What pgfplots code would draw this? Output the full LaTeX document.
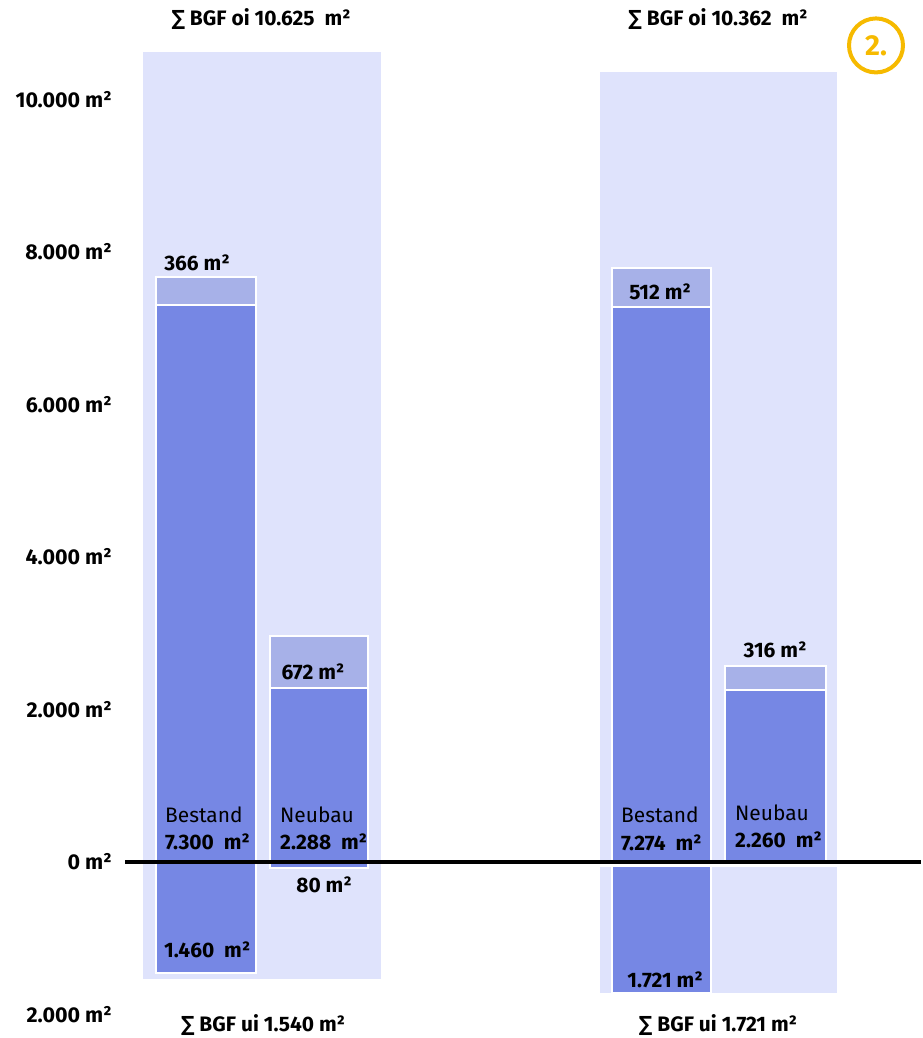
\documentclass[border=0pt]{standalone}
\usepackage{pgfplots}
\pgfplotsset{compat=1.18}
\usepackage{fontspec}
\setmainfont{Fira Sans}
\newfontfamily\symfont{DejaVu Sans Condensed}

\definecolor{bgc}{RGB}{223,227,252}
\definecolor{barc}{RGB}{118,135,228}
\definecolor{capc}{RGB}{167,177,232}
\definecolor{ring}{RGB}{246,186,0}

\newcommand{\sumsign}{{\symfont\bfseries ∑}}

\begin{document}
\begin{tikzpicture}[
  lab/.style={font=\fontsize{21}{24}\selectfont\bfseries, inner sep=0pt},
  reg/.style={font=\fontsize{21}{24}\selectfont, inner sep=0pt},
  bar/.style={draw=white, line width=2bp},
]
\begin{axis}[
  name=ax,
  scale only axis,
  width=923bp, height=1038bp,
  xmin=0, xmax=923,
  ymin=-2308.2, ymax=11305,
  axis line style={draw=none},
  xtick=\empty,
  scaled y ticks=false,
  ytick={-2000,0,2000,4000,6000,8000,10000},
  yticklabels={2.000 m²,0 m²,2.000 m²,4.000 m²,6.000 m²,8.000 m²,10.000 m²},
  major tick length=0pt,
  yticklabel style={anchor=east, xshift=112bp, inner sep=0pt,
    font=\fontsize{21.5}{24}\selectfont\bfseries},
  clip=false,
]
% group backgrounds (sum above / below ground)
\addplot[fill=bgc, draw=none] coordinates {(143,-1540) (381,-1540) (381,10625) (143,10625)} -- cycle;
\addplot[fill=bgc, draw=none] coordinates {(600,-1721) (837,-1721) (837,10362) (600,10362)} -- cycle;

% left group: Bestand
\addplot[fill=barc, bar] coordinates {(156,-1460) (256,-1460) (256,7300) (156,7300)} -- cycle;
\addplot[fill=capc, bar] coordinates {(156,7300) (256,7300) (256,7666) (156,7666)} -- cycle;
% left group: Neubau
\addplot[fill=barc, bar] coordinates {(270,-80) (368,-80) (368,2288) (270,2288)} -- cycle;
\addplot[fill=capc, bar] coordinates {(270,2288) (368,2288) (368,2960) (270,2960)} -- cycle;

% right group: Bestand
\addplot[fill=barc, bar] coordinates {(612,-1721) (711,-1721) (711,7274) (612,7274)} -- cycle;
\addplot[fill=capc, bar] coordinates {(612,7274) (711,7274) (711,7786) (612,7786)} -- cycle;
% right group: Neubau
\addplot[fill=barc, bar] coordinates {(725,0) (826,0) (826,2260) (725,2260)} -- cycle;
\addplot[fill=capc, bar] coordinates {(725,2260) (826,2260) (826,2576) (725,2576)} -- cycle;

% ground line
\addplot[white, line width=3bp] coordinates {(598,-45) (839,-45)};
\addplot[black, line width=3.5bp] coordinates {(125,0) (921,0)};

% sums
\node[lab] at (axis cs:261,11056) {\sumsign\ BGF oi 10.625 \ m²};
\node[lab] at (axis cs:718,11056) {\sumsign\ BGF oi 10.362 \ m²};
\node[lab] at (axis cs:263,-2138) {\sumsign\ BGF ui 1.540 m²};
\node[lab] at (axis cs:718,-2138) {\sumsign\ BGF ui 1.721 m²};

% badge
\node[circle, draw=ring, line width=4bp, minimum size=54bp, inner sep=0pt,
  text=ring, font=\fontsize{29}{32}\selectfont\bfseries] at (axis cs:876,10709) {2.};

% left labels
\node[lab] at (axis cs:197,7856) {366 m²};
\node[lab] at (axis cs:313,2492) {672 m²};
\node[lab] at (axis cs:324,-302) {80 m²};
\node[reg, anchor=west] at (axis cs:165,616) {Bestand};
\node[lab, anchor=west] at (axis cs:165,262) {7.300 \ m²};
\node[reg, anchor=west] at (axis cs:280,616) {Neubau};
\node[lab, anchor=west] at (axis cs:280,262) {2.288 \ m²};
\node[lab, anchor=west] at (axis cs:164,-1154) {1.460 \ m²};

% right labels
\node[lab] at (axis cs:660,7475) {512 m²};
\node[lab] at (axis cs:775,2780) {316 m²};
\node[reg, anchor=west] at (axis cs:621,616) {Bestand};
\node[lab, anchor=west] at (axis cs:621,249) {7.274 \ m²};
\node[reg, anchor=west] at (axis cs:735,643) {Neubau};
\node[lab, anchor=west] at (axis cs:735,289) {2.260 \ m²};
\node[lab] at (axis cs:665,-1548) {1.721 m²};
\end{axis}
\pgfresetboundingbox
\path (ax.south west) rectangle (ax.north east);
\end{tikzpicture}
\end{document}
